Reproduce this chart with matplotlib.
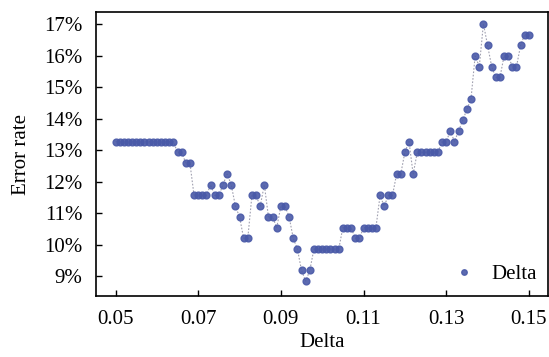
import numpy as np
import matplotlib
matplotlib.use("Agg")
import matplotlib.pyplot as plt
from matplotlib.ticker import FuncFormatter

# Delta sweep (0.050 -> 0.150, step 0.001) and measured error rate (%)
delta = np.round(np.linspace(0.05, 0.15, 101), 3)
error_rate = [
    13.27, 13.27, 13.27, 13.27, 13.27, 13.27, 13.27, 13.27, 13.27, 13.27,
    13.27, 13.27, 13.27, 13.27, 13.27, 12.93, 12.93, 12.59, 12.59, 11.56,
    11.56, 11.56, 11.56, 11.90, 11.56, 11.56, 11.90, 12.24, 11.90, 11.22,
    10.88, 10.20, 10.20, 11.56, 11.56, 11.22, 11.90, 10.88, 10.88, 10.54,
    11.22, 11.22, 10.88, 10.20, 9.86, 9.18, 8.84, 9.18, 9.86, 9.86,
    9.86, 9.86, 9.86, 9.86, 9.86, 10.54, 10.54, 10.54, 10.20, 10.20,
    10.54, 10.54, 10.54, 10.54, 11.56, 11.22, 11.56, 11.56, 12.24, 12.24,
    12.93, 13.27, 12.24, 12.93, 12.93, 12.93, 12.93, 12.93, 12.93, 13.27,
    13.27, 13.61, 13.27, 13.61, 13.95, 14.29, 14.63, 15.99, 15.65, 17.01,
    16.33, 15.65, 15.31, 15.31, 15.99, 15.99, 15.65, 15.65, 16.33, 16.67,
    16.67,
]
x_ticks = [0.05, 0.07, 0.09, 0.11, 0.13, 0.15]
y_ticks = [9, 10, 11, 12, 13, 14, 15, 16, 17]

plt.rcParams['font.family'] = ['Liberation Serif', 'DejaVu Serif']

fig = plt.figure(figsize=(5.49, 3.57), dpi=100)
ax = fig.add_axes([0.175, 0.171, 0.823, 0.795])

# dotted connector, then the markers
ax.plot(delta, error_rate, linestyle=(0, (1.5, 1.5)), color='#a0a0b0', linewidth=0.8, zorder=1)
ax.plot(delta, error_rate, linestyle='none', marker='o', markersize=4.9,
        color='#4a5aa8', alpha=0.9, label='Delta', zorder=2)

ax.set_xlim(0.0453, 0.1546)
ax.set_ylim(8.37, 17.38)
ax.set_xticks(x_ticks)
ax.set_yticks(y_ticks)
ax.xaxis.set_major_formatter(FuncFormatter(lambda v, p: f"{v:.2f}"))
ax.yaxis.set_major_formatter(FuncFormatter(lambda v, p: f"{v:.0f}%"))
ax.tick_params(direction='in', length=4, width=1, labelsize=15)
ax.tick_params(axis='y', pad=10)
ax.tick_params(axis='x', pad=10)

for s in ax.spines.values():
    s.set_linewidth(1.2)

ax.set_xlabel("Delta", fontsize=15, labelpad=3)
ax.set_ylabel("Error rate", fontsize=15, labelpad=9)

ax.legend(loc='lower right', frameon=False, fontsize=15, handletextpad=0.3,
          markerscale=0.8, borderaxespad=0.15)

fig.savefig("out.png", dpi=100)
